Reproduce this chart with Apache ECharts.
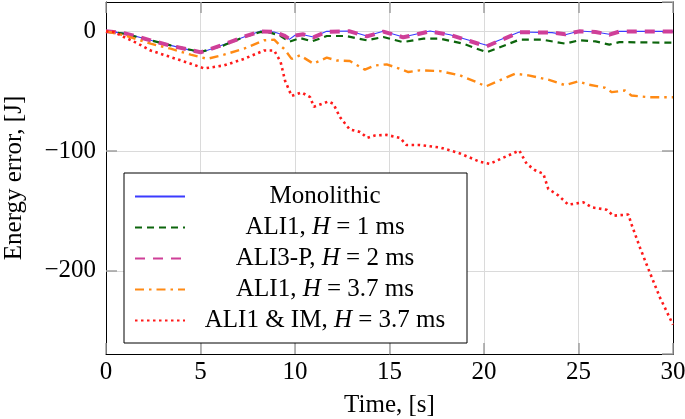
<!DOCTYPE html>
<html>
<head>
<meta charset="utf-8">
<script src="https://cdn.jsdelivr.net/npm/echarts@6/dist/echarts.min.js"></script>
<style>html,body{margin:0;padding:0;background:#fff}#c{width:685px;height:419px}</style>
</head>
<body>
<div id="c"></div>
<script>
const seriesNames = ['Monolithic', 'ALI1, H = 1 ms', 'ALI3-P, H = 2 ms', 'ALI1, H = 3.7 ms', 'ALI1 & IM, H = 3.7 ms'];
const xTicks = [0, 5, 10, 15, 20, 25, 30];
const yTicks = [-200, -100, 0];

const tMono = [0,0.95,2.36,3.42,5.0,6.24,7.3,8.18,8.9,9.42,9.7,10.0,10.44,10.97,11.68,12.9,13.8,14.67,15.73,17.14,18.2,20.14,21.87,23.6,24.3,25.04,25.9,26.63,27.16,30];
const vMono = [0,-1.5,-7.5,-11.7,-17.8,-11,-4.7,0.3,-0.5,-3.3,-6.7,-3.3,-2.8,-4.7,0,0.3,-3.9,0,-4.7,0.3,-2.8,-11.7,-0.5,-1.1,-2.8,0.3,-0.5,-2.5,0,0];
const vAli3 = [0,-1.5,-7.5,-12,-17.5,-11,-4.5,0,-0.5,-3.5,-6.3,-3.5,-2.5,-5,-0.3,0,-4.2,-0.2,-5,0,-3,-12.5,-0.8,-1,-2.5,0,-0.5,-2.8,-0.2,-0.2];

const tAli1 = [0,0.95,2.36,3.42,5.0,6.24,7.3,8.18,8.7,9.24,9.7,10.26,10.9,11.68,12.7,13.8,14.67,15.7,16.8,17.67,18.9,20.14,21.87,23.1,24.3,25.04,25.9,26.63,27.16,30];
const vAli1 = [0,-2,-7.5,-11.7,-17.3,-11.7,-4.7,-0.5,-1.1,-3.9,-8.7,-5.6,-8.4,-3.9,-3.9,-7.5,-4.7,-9,-6.1,-6.1,-10.3,-17.5,-7,-7,-10.3,-7.5,-8.4,-11.1,-9,-9.5];

const tAli37 = [0,0.95,2.36,3.42,4.48,5.36,6.24,7.3,8.36,8.9,9.2,9.42,9.82,10.26,10.97,11.68,12.2,12.9,13.7,14.23,14.85,15.38,16.0,16.6,17.67,18.73,19.6,20.1,21.64,22.35,23.4,24.3,25.0,25.5,26.4,26.76,27.46,27.8,28.7,30];
const vAli37 = [0,-3.3,-10.3,-14.5,-19.5,-23,-19.5,-14.5,-7.5,-7,-11.7,-14.5,-23,-20,-27,-22,-24.3,-24.8,-32,-28.5,-27.6,-30.4,-34,-32.6,-33.2,-36.8,-42.4,-46,-35.4,-36.8,-40.4,-45,-41.8,-44.4,-47.1,-50.8,-49.4,-53.6,-55,-55];

const tIM = [0,0.4,0.95,1.66,2.36,3.42,4.48,5.19,6.24,7.3,8.36,8.9,9.24,9.47,9.82,10.35,10.8,11.0,11.76,12.03,12.38,12.9,13.44,13.83,14.23,14.85,15.56,15.9,16.6,17.67,18.73,19.79,20.3,21.0,21.87,22.26,22.7,23.14,23.4,23.93,24.46,25.26,25.7,26.49,26.84,27.64,27.8,28.25,28.7,29.3,30];
const vIM = [0,-0.5,-4.7,-10,-16,-21.5,-27,-31,-28.5,-23,-16,-16,-25.6,-41,-54,-51,-55,-63,-58.6,-60.5,-71.7,-82,-84,-89,-87,-86.5,-89,-95,-95,-97,-102,-109,-110.7,-105.7,-99.6,-110.7,-116,-119,-131.6,-137,-144.8,-142.8,-147,-149,-154,-153,-161,-180.5,-198.6,-222,-245];

function pairs(t, v) { return t.map((x, i) => [x, v[i]]); }
const FONT = 'Liberation Serif';
const FS = 25;
const fmt = v => (v < 0 ? '\u2212' + Math.abs(v) : String(v));

const chart = echarts.init(document.getElementById('c'), null, {renderer: 'canvas'});
const baseAxisLine = {show: true, onZero: false, lineStyle: {color: '#000', width: 1}};
const tickStyle = {show: true, inside: true, length: 11, lineStyle: {color: '#a0a0a0', width: 1.5}};
const gridLine = {show: true, lineStyle: {color: '#dadada', width: 1}};
const Y_MIN = -269.5, Y_MAX = 24.5;

const option = {
  animation: false,
  backgroundColor: '#fff',
  grid: {left: 106, right: 12, top: 2, bottom: 65, containLabel: false, outerBoundsMode: 'none'},
  xAxis: [{
    type: 'value', position: 'bottom', min: xTicks[0], max: xTicks[xTicks.length - 1], interval: 5,
    name: 'Time, [s]', nameLocation: 'middle', nameGap: 39,
    nameTextStyle: {fontFamily: FONT, fontSize: FS, color: '#000'},
    axisLine: baseAxisLine, axisTick: tickStyle, splitLine: gridLine,
    axisLabel: {fontFamily: FONT, fontSize: FS, color: '#000', margin: 6, formatter: fmt}
  }, {
    type: 'value', position: 'top', min: xTicks[0], max: xTicks[xTicks.length - 1], interval: 5,
    axisLine: baseAxisLine, axisTick: tickStyle, splitLine: {show: false}, axisLabel: {show: false}
  }],
  yAxis: [{
    type: 'value', position: 'left', min: Y_MIN, max: Y_MAX, splitNumber: 3,
    name: 'Energy error, [J]', nameLocation: 'middle', nameGap: 79,
    nameTextStyle: {fontFamily: FONT, fontSize: FS, color: '#000'},
    axisLine: baseAxisLine,
    axisTick: tickStyle,
    splitLine: gridLine,
    axisLabel: {fontFamily: FONT, fontSize: FS, color: '#000', margin: 10, formatter: fmt,
                showMinLabel: false, showMaxLabel: false}
  }, {
    type: 'value', position: 'right', min: Y_MIN, max: Y_MAX, splitNumber: 3,
    axisLine: baseAxisLine, axisTick: tickStyle,
    splitLine: {show: false}, axisLabel: {show: false}
  }],
  legend: {
    orient: 'vertical', left: 124, top: 173,
    padding: [11, 7, 10, 10], itemGap: 6, itemWidth: 50, itemHeight: 14,
    borderColor: '#000', borderWidth: 1, backgroundColor: '#fff', borderRadius: 0,
    selectedMode: false,
    itemStyle: {opacity: 0},
    data: seriesNames,
    textStyle: {
      fontFamily: FONT, fontSize: FS, color: '#000', lineHeight: 25, width: 270,
      rich: {
        t: {fontFamily: FONT, fontSize: FS, color: '#000', align: 'center', lineHeight: 25},
        i: {fontFamily: FONT, fontSize: FS, color: '#000', fontStyle: 'italic', align: 'center', lineHeight: 25}
      }
    },
    formatter: function (name) {
      const k = name.indexOf(', H');
      if (k < 0) return '{t|' + name + '}';
      return '{t|' + name.slice(0, k + 2) + '}{i|H}{t|' + name.slice(k + 3) + '}';
    }
  },
  series: [
    {name: seriesNames[0], type: 'line', data: pairs(tMono, vMono), symbol: 'none',
     lineStyle: {color: '#3b3bff', width: 1.1, type: 'solid'}, itemStyle: {color: '#3b3bff'}},
    {name: seriesNames[1], type: 'line', data: pairs(tAli1, vAli1), symbol: 'none',
     lineStyle: {color: '#0c650c', width: 2.2, type: [7, 5]}, itemStyle: {color: '#0c650c'}},
    {name: seriesNames[2], type: 'line', data: pairs(tMono, vAli3), symbol: 'none',
     lineStyle: {color: '#cf3f98', width: 4, type: [10, 8]}, itemStyle: {color: '#cf3f98'}},
    {name: seriesNames[3], type: 'line', data: pairs(tAli37, vAli37), symbol: 'none',
     lineStyle: {color: '#ff8a14', width: 2.4, type: [9, 5, 2.5, 5]}, itemStyle: {color: '#ff8a14'}},
    {name: seriesNames[4], type: 'line', data: pairs(tIM, vIM), symbol: 'none',
     lineStyle: {color: '#ff1a1a', width: 2.6, type: [2.5, 3.5]}, itemStyle: {color: '#ff1a1a'}}
  ]
};
chart.setOption(option);
</script>
</body>
</html>
